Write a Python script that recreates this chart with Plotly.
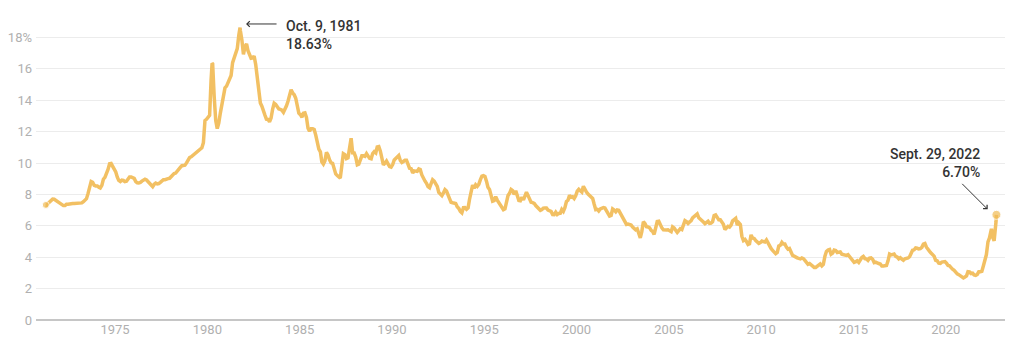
import pandas as pd
import plotly.graph_objects as go

# Monthly average 30-year fixed mortgage rates (%), starting April 1971
start_month = "1971-04-01"

rates_1970s = [
    7.31, 7.43, 7.53, 7.60, 7.70, 7.69, 7.63, 7.55, 7.48,
    7.44, 7.32, 7.29, 7.29, 7.37, 7.37, 7.40, 7.40, 7.42, 7.42, 7.43, 7.44,
    7.44, 7.44, 7.46, 7.54, 7.65, 7.73, 8.05, 8.50, 8.82, 8.77, 8.58, 8.54,
    8.54, 8.46, 8.41, 8.58, 8.97, 9.09, 9.28, 9.59, 9.96, 9.98, 9.79, 9.62,
    9.43, 9.10, 8.89, 8.82, 8.91, 8.89, 8.82, 8.84, 8.95, 9.11, 9.11, 9.08,
    9.02, 8.82, 8.74, 8.73, 8.76, 8.85, 8.93, 8.97, 8.92, 8.82, 8.70, 8.56,
    8.50, 8.65, 8.72, 8.67, 8.69, 8.77, 8.86, 8.94, 8.94, 9.00, 9.01, 9.03,
    9.15, 9.26, 9.33, 9.36, 9.51, 9.62, 9.72, 9.83, 9.85, 9.86, 10.01, 10.24,
    10.35, 10.40, 10.47, 10.55, 10.60, 10.72, 10.80, 10.85, 10.97, 11.30, 12.71, 12.79,
]
rates_1980s = [
    12.88, 13.04, 15.28, 16.32, 14.26, 12.71, 12.19, 12.56, 13.20, 13.79, 14.21, 14.79,
    14.90, 15.13, 15.40, 15.58, 16.40, 16.70, 16.83, 17.29, 18.16, 18.45, 17.83, 16.92,
    17.40, 17.60, 17.16, 16.89, 16.68, 16.70, 16.82, 16.27, 15.43, 14.61, 13.83, 13.62,
    13.25, 13.04, 12.80, 12.78, 12.63, 12.87, 13.42, 13.81, 13.73, 13.54, 13.44, 13.42,
    13.37, 13.23, 13.39, 13.65, 13.94, 14.42, 14.67, 14.47, 14.35, 14.13, 13.64, 13.18,
    13.08, 12.92, 13.17, 13.20, 12.91, 12.22, 12.03, 12.19, 12.19, 12.14, 11.78, 11.26,
    10.88, 10.71, 10.08, 9.94, 10.14, 10.68, 10.51, 10.20, 10.01, 9.98, 9.70, 9.31,
    9.20, 9.08, 9.04, 9.83, 10.60, 10.54, 10.28, 10.33, 10.89, 11.26, 10.65, 10.64,
    10.38, 9.89, 9.93, 10.20, 10.46, 10.46, 10.43, 10.60, 10.48, 10.30, 10.27, 10.61,
    10.73, 10.65, 11.03, 11.05, 10.77, 10.20, 9.88, 9.99, 10.13, 9.95, 9.77, 9.74,
]
rates_1990s = [
    9.90, 10.20, 10.27, 10.37, 10.48, 10.16, 10.04, 10.10, 10.18, 10.18, 9.95, 9.67,
    9.64, 9.37, 9.50, 9.49, 9.47, 9.62, 9.58, 9.24, 9.01, 8.86, 8.71, 8.50,
    8.43, 8.76, 8.94, 8.85, 8.67, 8.51, 8.13, 7.98, 7.92, 8.09, 8.31, 8.22,
    7.99, 7.68, 7.50, 7.47, 7.47, 7.42, 7.21, 7.11, 6.92, 6.83, 7.16, 7.17,
    7.06, 7.15, 7.68, 8.32, 8.60, 8.40, 8.61, 8.51, 8.64, 8.93, 9.17, 9.20,
    9.15, 8.83, 8.46, 8.32, 7.96, 7.57, 7.61, 7.86, 7.64, 7.48, 7.38, 7.20,
    7.03, 7.08, 7.62, 7.93, 8.07, 8.32, 8.25, 8.00, 8.23, 7.92, 7.62, 7.60,
    7.82, 7.65, 7.90, 8.14, 7.94, 7.69, 7.50, 7.48, 7.43, 7.29, 7.21, 7.10,
    6.99, 7.04, 7.13, 7.14, 7.14, 7.00, 6.95, 6.92, 6.72, 6.71, 6.87, 6.72,
    6.79, 6.81, 7.04, 6.92, 7.15, 7.55, 7.63, 7.94, 7.82, 7.85, 7.74, 7.91,
]
rates_2000s = [
    8.21, 8.33, 8.24, 8.15, 8.52, 8.29, 8.15, 8.03, 7.91, 7.80, 7.75, 7.38,
    7.03, 7.05, 6.95, 7.08, 7.15, 7.16, 7.13, 6.95, 6.82, 6.62, 6.66, 7.07,
    7.00, 6.89, 7.01, 6.99, 6.81, 6.65, 6.49, 6.29, 6.09, 6.11, 6.07, 6.05,
    5.92, 5.84, 5.75, 5.81, 5.48, 5.23, 5.63, 6.26, 6.15, 5.95, 5.93, 5.88,
    5.71, 5.64, 5.45, 5.83, 6.27, 6.29, 6.06, 5.87, 5.75, 5.72, 5.73, 5.75,
    5.71, 5.63, 5.93, 5.86, 5.72, 5.58, 5.70, 5.82, 5.77, 6.07, 6.33, 6.27,
    6.15, 6.25, 6.32, 6.51, 6.60, 6.68, 6.76, 6.52, 6.40, 6.36, 6.24, 6.14,
    6.22, 6.29, 6.16, 6.18, 6.26, 6.66, 6.70, 6.57, 6.38, 6.38, 6.21, 6.10,
    5.76, 5.92, 5.97, 5.92, 6.04, 6.32, 6.43, 6.48, 6.04, 6.20, 6.09, 5.33,
    5.06, 5.13, 5.00, 4.81, 4.86, 5.42, 5.22, 5.19, 5.06, 4.95, 4.88, 4.93,
]
rates_2010s = [
    5.03, 4.99, 4.97, 5.10, 4.89, 4.74, 4.56, 4.43, 4.35, 4.23, 4.30, 4.71,
    4.76, 4.95, 4.84, 4.84, 4.64, 4.51, 4.55, 4.27, 4.11, 4.07, 3.99, 3.96,
    3.92, 3.89, 3.95, 3.91, 3.80, 3.68, 3.55, 3.60, 3.50, 3.38, 3.35, 3.35,
    3.41, 3.53, 3.57, 3.45, 3.54, 4.07, 4.37, 4.46, 4.49, 4.19, 4.26, 4.46,
    4.43, 4.30, 4.34, 4.34, 4.19, 4.16, 4.13, 4.12, 4.16, 4.04, 4.00, 3.86,
    3.67, 3.71, 3.77, 3.67, 3.84, 3.98, 4.05, 3.91, 3.89, 3.80, 3.94, 3.96,
    3.87, 3.66, 3.69, 3.61, 3.60, 3.57, 3.44, 3.44, 3.46, 3.47, 3.77, 4.20,
    4.15, 4.17, 4.20, 4.05, 4.01, 3.90, 3.97, 3.88, 3.81, 3.90, 3.92, 3.95,
    4.03, 4.33, 4.44, 4.47, 4.59, 4.57, 4.53, 4.55, 4.63, 4.83, 4.87, 4.64,
    4.46, 4.37, 4.27, 4.14, 4.07, 3.80, 3.77, 3.62, 3.61, 3.69, 3.70, 3.72,
]
rates_2020s = [
    3.62, 3.47, 3.45, 3.31, 3.23, 3.16, 3.02, 2.94, 2.89, 2.83, 2.77, 2.68,
    2.74, 2.81, 3.08, 3.06, 2.96, 2.98, 2.87, 2.84, 2.90, 3.07, 3.07, 3.10,
    3.45, 3.76, 4.17, 4.98, 5.23, 5.70, 5.30, 5.05,
]

# Individual weekly readings (first week, notable weekly extremes, latest week)
weekly_dates = ["1971-04-02", "1980-04-04", "1981-10-09", "1987-10-16",
                "2022-06-23", "2022-09-22", "2022-09-29"]
weekly_rates = [7.33, 16.35, 18.63, 11.58, 5.81, 6.29, 6.70]

year_ticks = [1975, 1980, 1985, 1990, 1995, 2000, 2005, 2010, 2015, 2020]
y_ticks = [0, 2, 4, 6, 8, 10, 12, 14, 16, 18]

monthly = rates_1970s + rates_1980s + rates_1990s + rates_2000s + rates_2010s + rates_2020s
mdates = pd.date_range(start_month, periods=len(monthly), freq="MS") + pd.Timedelta(days=14)
df = pd.concat([
    pd.DataFrame({"date": mdates, "rate": monthly}),
    pd.DataFrame({"date": pd.to_datetime(weekly_dates), "rate": weekly_rates}),
]).sort_values("date").reset_index(drop=True)

LINE = "#F2C063"
fig = go.Figure()
fig.add_trace(go.Scatter(x=df["date"], y=df["rate"], mode="lines",
                         line=dict(color=LINE, width=3.5, shape="linear"),
                         hoverinfo="skip", showlegend=False))
fig.add_trace(go.Scatter(x=[df["date"].iloc[0], df["date"].iloc[-1]],
                         y=[df["rate"].iloc[0], df["rate"].iloc[-1]],
                         mode="markers", marker=dict(color="#F0BB55", size=[7, 9]),
                         hoverinfo="skip", showlegend=False))

font_fam = "Roboto, Liberation Sans, sans-serif"
fig.update_layout(
    width=1024, height=358,
    margin=dict(l=36, r=19, t=21, b=38, autoexpand=False),
    paper_bgcolor="white", plot_bgcolor="white",
    xaxis=dict(range=["1970-09-20", "2023-03-18"],
               tickvals=[f"{y}-01-01" for y in year_ticks],
               ticktext=[str(y) for y in year_ticks],
               showgrid=False, zeroline=False, showline=False, ticks="",
               automargin=False,
               tickfont=dict(family=font_fam, size=13, color="#b0b0b0")),
    yaxis=dict(range=[0, 19.05], tickvals=y_ticks,
               ticktext=[str(v) if v != 18 else "18%" for v in y_ticks],
               showgrid=True, gridcolor="#ececec", gridwidth=1,
               zeroline=True, zerolinecolor="#c6c6c6", zerolinewidth=1.5,
               showline=False, ticks="", automargin=False, ticklabelstandoff=3,
               tickfont=dict(family=font_fam, size=13, color="#b0b0b0")),
)

ann_font = dict(family=font_fam, size=14, color="#333333", weight=500)
# arrow to 1981 peak
fig.add_annotation(x="1982-02-05", y=18.86, xref="x", yref="y", text="",
                   showarrow=True, arrowhead=4, arrowsize=1.1, arrowwidth=1,
                   arrowcolor="#333333", ax=32, ay=0)
fig.add_annotation(x="1984-02-25", y=18.16, xref="x", yref="y",
                   text="Oct. 9, 1981<br>18.63%", showarrow=False,
                   xanchor="left", yanchor="middle", align="left", font=ann_font)
# arrow to latest
fig.add_annotation(x="2022-04-10", y=7.05, xref="x", yref="y", text="",
                   showarrow=True, arrowhead=4, arrowsize=1.1, arrowwidth=1,
                   arrowcolor="#333333", ax=-27, ay=-27)
fig.add_annotation(x="2021-12-15", y=10.03, xref="x", yref="y",
                   text="Sept. 29, 2022<br>6.70%", showarrow=False,
                   xanchor="right", yanchor="middle", align="right", font=ann_font)

fig.write_html("out.html", config={"displayModeBar": False},
               post_script="document.body.style.margin='0px';")
